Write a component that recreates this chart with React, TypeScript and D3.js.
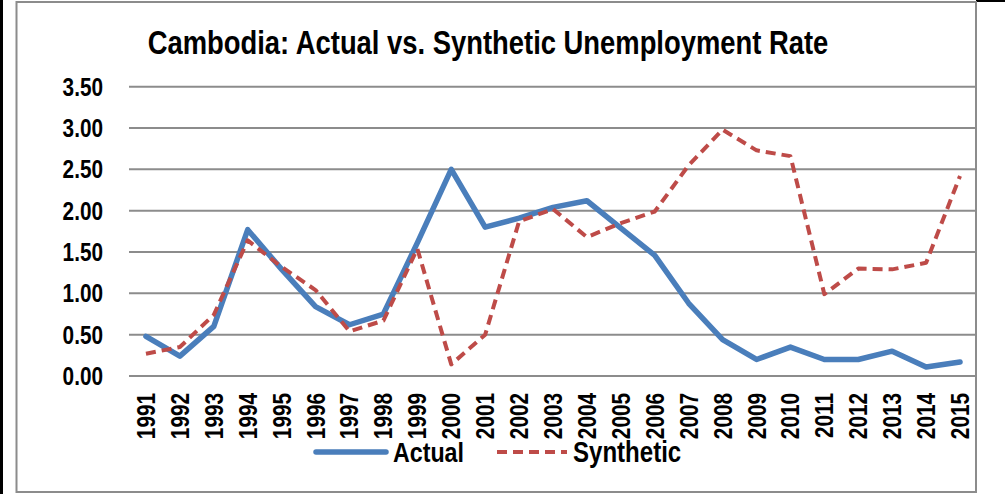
import React from "react";
import * as d3 from "d3";

const years = [1991,1992,1993,1994,1995,1996,1997,1998,1999,2000,2001,2002,2003,2004,2005,2006,2007,2008,2009,2010,2011,2012,2013,2014,2015];
const actual = [0.48,0.24,0.60,1.77,1.29,0.84,0.62,0.75,1.61,2.50,1.80,1.91,2.04,2.12,1.79,1.46,0.88,0.44,0.20,0.35,0.20,0.20,0.30,0.11,0.17];
const synthetic = [0.27,0.35,0.74,1.64,1.32,1.04,0.54,0.67,1.54,0.14,0.50,1.87,2.02,1.68,1.85,1.99,2.55,2.98,2.73,2.66,0.99,1.30,1.29,1.37,2.42];
const yTicks = [0,0.5,1,1.5,2,2.5,3,3.5];
const title = "Cambodia: Actual vs. Synthetic Unemployment Rate";
const seriesNames = ["Actual", "Synthetic"];

const FONT = "'Liberation Sans', Arial, sans-serif";
const NARROW = 0.83;

function NText({ x, y, rotate = 0, anchor = "start", size, children }: any) {
  return (
    <text
      transform={`translate(${x},${y}) rotate(${rotate}) scale(${NARROW},1)`}
      textAnchor={anchor}
      fontFamily={FONT}
      fontWeight="bold"
      fontSize={size}
      fill="#000"
    >
      {children}
    </text>
  );
}

export default function App() {
  const W = 1005, H = 494;
  const plot = { left: 129, right: 977, top: 86.7, bottom: 376 };
  const x = d3.scaleBand<number>().domain(years).range([plot.left, plot.right]);
  const y = d3.scaleLinear().domain([0, 3.5]).range([plot.bottom, plot.top]);
  const cx = (yr: number) => (x(yr) as number) + x.bandwidth() / 2;
  const line = d3.line<number>().x((_, i) => cx(years[i])).y((d) => y(d));

  return (
    <svg width={W} height={H} style={{ position: "absolute", left: 0, top: 0, background: "#fff" }}>
      <rect x={0} y={0} width={W} height={H} fill="#fff" />
      <line x1={1.5} y1={0} x2={1.5} y2={H} stroke="#000" strokeWidth={3} />
      <line x1={976} y1={1} x2={W} y2={1} stroke="#000" strokeWidth={2} />
      <rect x={16.5} y={2} width={959.5} height={490} fill="none" stroke="#8c8c8c" strokeWidth={2} />
      <NText x={488} y={54} anchor="middle" size={33}>{title}</NText>
      {yTicks.map((t) => (
        <g key={t}>
          <line x1={plot.left} x2={plot.right} y1={y(t)} y2={y(t)} stroke="#8c8c8c" strokeWidth={2} />
          <NText x={103} y={y(t) + 9} anchor="end" size={25}>{t.toFixed(2)}</NText>
        </g>
      ))}
      <line x1={plot.right - 1} x2={plot.right - 1} y1={plot.top} y2={plot.bottom} stroke="#8c8c8c" strokeWidth={2} />
      {years.map((yr) => (
        <NText key={yr} x={cx(yr) + 9} y={393} rotate={-90} anchor="end" size={25}>{yr}</NText>
      ))}
      <path d={line(actual) || ""} fill="none" stroke="#4A7EBB" strokeWidth={5.5} strokeLinejoin="round" strokeLinecap="round" />
      <path d={line(synthetic) || ""} fill="none" stroke="#BE4B48" strokeWidth={4} strokeDasharray="10,6" strokeLinejoin="round" />
      <line x1={316} x2={386} y1={452} y2={452} stroke="#4A7EBB" strokeWidth={5.5} strokeLinecap="round" />
      <NText x={393} y={462} size={28}>{seriesNames[0]}</NText>
      <line x1={497} x2={567} y1={452} y2={452} stroke="#BE4B48" strokeWidth={4} strokeDasharray="10,6" />
      <NText x={573} y={462} size={29}>{seriesNames[1]}</NText>
    </svg>
  );
}
